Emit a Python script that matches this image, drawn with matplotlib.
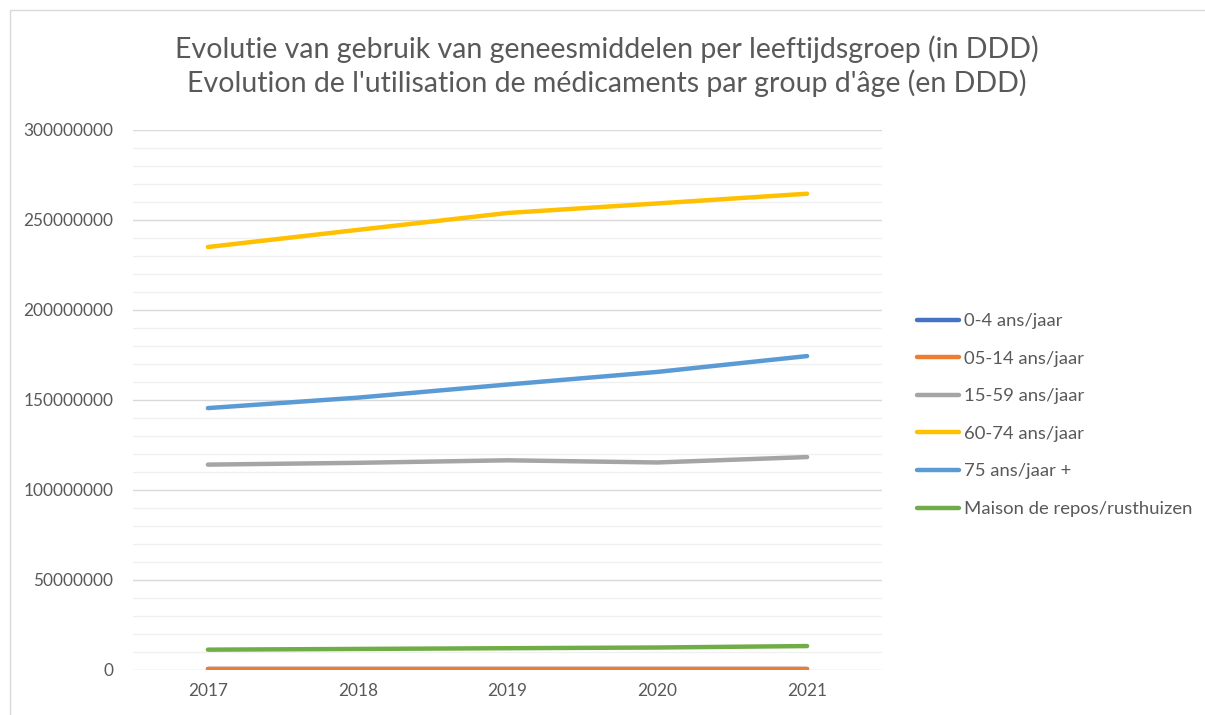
import matplotlib
matplotlib.use("Agg")
import matplotlib.pyplot as plt
from matplotlib.patches import Rectangle
from matplotlib.ticker import MultipleLocator, FuncFormatter

years = ["2017", "2018", "2019", "2020", "2021"]
series_names = ["0-4 ans/jaar", "05-14 ans/jaar", "15-59 ans/jaar", "60-74 ans/jaar",
                "75 ans/jaar +", "Maison de repos/rusthuizen"]
v_0_4 = [300000, 300000, 300000, 300000, 300000]
v_05_14 = [500000, 500000, 500000, 500000, 500000]
v_15_59 = [114100000, 115100000, 116500000, 115300000, 118300000]
v_60_74 = [235000000, 244500000, 253900000, 259200000, 264600000]
v_75p = [145500000, 151300000, 158600000, 165600000, 174400000]
v_mr = [11300000, 11700000, 12100000, 12500000, 13300000]
colors = ["#4472C4", "#ED7D31", "#A5A5A5", "#FFC000", "#5B9BD5", "#70AD47"]
title = ("Evolutie van gebruik van geneesmiddelen per leeftijdsgroep (in DDD)\n"
         "Evolution de l'utilisation de médicaments par group d'âge (en DDD)")

plt.rcParams['font.family'] = ['Lato', 'DejaVu Sans']
txt = "#595959"

fig = plt.figure(figsize=(12.05, 7.15), dpi=100)
fig.patches.append(Rectangle((10/1205, -0.01), 1.0, (715-10)/715 + 0.01, transform=fig.transFigure,
                             fill=False, edgecolor="#d9d9d9", linewidth=1.0))
ax = fig.add_axes([133/1205, 45/715, (882-133)/1205, (670-130)/715])

x = list(range(len(years)))
all_vals = [v_0_4, v_05_14, v_15_59, v_60_74, v_75p, v_mr]
for name, vals, c in zip(series_names, all_vals, colors):
    ax.plot(x, vals, color=c, lw=3.2, solid_capstyle="round", solid_joinstyle="round", label=name)

ax.set_xlim(-0.5, len(years) - 0.5)
ax.set_ylim(0, 300000000)
ax.set_xticks(x)
ax.set_xticklabels(years)
ax.yaxis.set_major_locator(MultipleLocator(50000000))
ax.yaxis.set_minor_locator(MultipleLocator(10000000))
ax.yaxis.set_major_formatter(FuncFormatter(lambda v, p: f"{int(v)}"))
ax.grid(True, which="major", axis="y", color="#d9d9d9", lw=1.0)
ax.grid(True, which="minor", axis="y", color="#f0f0f0", lw=1.0)
ax.set_axisbelow(True)
for s in ax.spines.values():
    s.set_visible(False)
ax.tick_params(axis="both", which="both", length=0, colors=txt, labelsize=12.4)
ax.tick_params(axis="y", pad=14)
ax.tick_params(axis="x", pad=9)

fig.text(607/1205, 1 - 66/715, title, ha="center", va="center", fontsize=20.5,
         color=txt, linespacing=1.3)

leg = ax.legend(loc="upper left", bbox_to_anchor=(917/1205, 1 - 313/715),
                bbox_transform=fig.transFigure, frameon=False, fontsize=13.3,
                borderaxespad=0, borderpad=0,
                handlelength=2.3, handletextpad=0.27, labelspacing=1.17, labelcolor=txt)

fig.savefig("out.png", dpi=100)
